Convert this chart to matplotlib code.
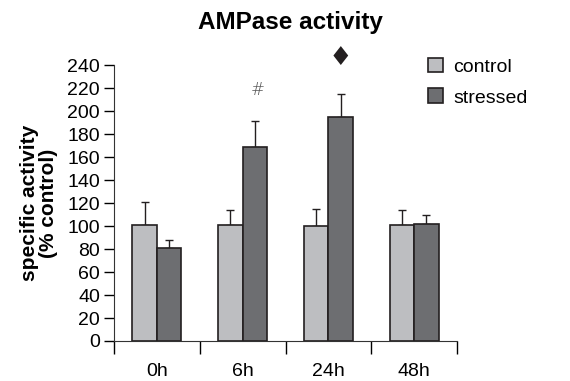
import numpy as np
import matplotlib.pyplot as plt
from matplotlib.patches import Patch

plt.rcParams['font.family'] = ['Liberation Sans', 'DejaVu Sans']

# Data
groups = ['0h', '6h', '24h', '48h']
control = [101, 101, 100, 101]
control_err = [20, 13, 15, 13]
stressed = [81, 169, 195, 102]
stressed_err = [7, 22, 20, 8]

c_ctrl = '#bdbec1'
c_str = '#6d6e71'
edge = '#231f20'

fig = plt.figure(figsize=(5.7, 3.81), dpi=100)
ax = fig.add_axes([0.2, 0.105, 0.602, 0.724])

x = np.arange(len(groups))
w = 0.285
ax.bar(x - w/2, control, w, color=c_ctrl, edgecolor=edge, linewidth=1.2, zorder=2)
ax.bar(x + w/2, stressed, w, color=c_str, edgecolor=edge, linewidth=1.2, zorder=2)

# only upper error bars
ax.errorbar(x - w/2, control, yerr=[np.zeros(4), control_err], fmt='none',
            ecolor=edge, elinewidth=1, capsize=3, capthick=1, zorder=1)
ax.errorbar(x + w/2, stressed, yerr=[np.zeros(4), stressed_err], fmt='none',
            ecolor=edge, elinewidth=1, capsize=3, capthick=1, zorder=1)

# significance marks
ax.text(1 + w/2 + 0.03, 218, '#', ha='center', va='center', fontsize=12,
        color='#555555', family='DejaVu Sans', fontweight='light')
ax.text(2 + w/2, 246, '\u2666', ha='center', va='center', fontsize=19,
        color=edge, family='DejaVu Sans', clip_on=False)

ax.set_xlim(-0.5, 3.5)
ax.set_ylim(0, 240)
ax.set_yticks(range(0, 241, 20))
ax.tick_params(axis='y', direction='out', length=7, width=1, labelsize=14, pad=3)
ax.set_xticks([-0.5, 0.5, 1.5, 2.5, 3.5])
ax.set_xticklabels([])
ax.set_xticks(x, minor=True)
ax.set_xticklabels(groups, minor=True)
ax.tick_params(axis='x', which='major', direction='out', length=9, width=1)
ax.tick_params(axis='x', which='minor', length=0, labelsize=14, pad=16)
for s in ['top', 'right']:
    ax.spines[s].set_visible(False)
for s in ['left', 'bottom']:
    ax.spines[s].set_color('#333333')

ax.set_ylabel('specific activity\n(% control)', fontsize=15, fontweight='bold',
              linespacing=1.0, labelpad=7)
fig.text(0.51, 0.94, 'AMPase activity', ha='center', va='center',
         fontsize=17.5, fontweight='bold')

handles = [Patch(facecolor=c_ctrl, edgecolor=edge, linewidth=1.2),
           Patch(facecolor=c_str, edgecolor=edge, linewidth=1.2)]
fig.legend(handles, ['control', 'stressed'], loc='upper left',
           bbox_to_anchor=(0.72, 0.895), frameon=False, fontsize=14,
           handlelength=0.8, handleheight=0.8, handletextpad=0.5,
           labelspacing=0.65)

plt.savefig('out.png', dpi=100)
